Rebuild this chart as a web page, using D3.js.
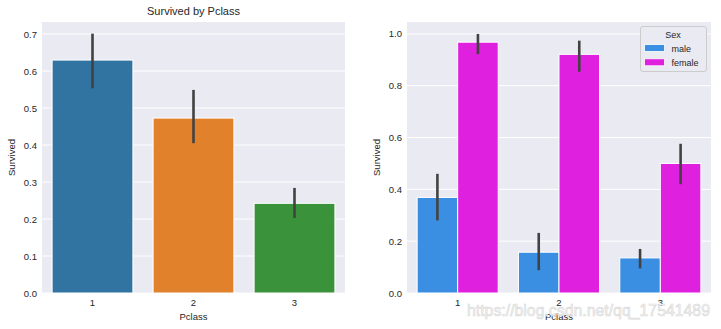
<!DOCTYPE html>
<html><head><meta charset="utf-8">
<script src="https://cdn.jsdelivr.net/npm/d3@7"></script>
<style>
body{margin:0;background:#fff;}
text{font-family:"Liberation Sans",Arial,sans-serif;fill:#262626;}
</style></head>
<body>
<svg id="c" width="721" height="329"></svg>
<script>
// ---- data ----
const classes = ["1","2","3"];
const survived = [0.6296, 0.4728, 0.2424];
const survivedLo = [0.553, 0.405, 0.203];
const survivedHi = [0.701, 0.549, 0.284];
const leftColors = ["#3274a1","#e1812c","#3a923a"];
const leftTicks = [0.0,0.1,0.2,0.3,0.4,0.5,0.6,0.7];

const sexes = ["male","female"];
const maleVals = [0.3689, 0.1574, 0.1354];
const maleLo = [0.280, 0.088, 0.095];
const maleHi = [0.460, 0.232, 0.170];
const femaleVals = [0.9681, 0.9211, 0.5000];
const femaleLo = [0.922, 0.854, 0.420];
const femaleHi = [1.000, 0.974, 0.576];
const sexColors = ["#3a8fe3","#df20df"];
const rightTicks = [0.0,0.2,0.4,0.6,0.8,1.0];

const svg = d3.select("#c");
const bg = "#eaeaf2";
const errColor = "#424242";
const fs = 9.5;

function panel(x0, x1, y0, y1, ymax, ticks, fmt) {
  const g = svg.append("g");
  g.append("rect").attr("x",x0).attr("y",y0).attr("width",x1-x0).attr("height",y1-y0).attr("fill",bg);
  const x = d3.scaleBand().domain(classes).range([x0,x1]).paddingInner(0).paddingOuter(0);
  const y = d3.scaleLinear().domain([0,ymax]).range([y1,y0]);
  g.selectAll("line.grid").data(ticks).join("line")
    .attr("x1",x0).attr("x2",x1).attr("y1",d=>y(d)).attr("y2",d=>y(d))
    .attr("stroke","#fff").attr("stroke-width",1);
  const yAxis = d3.axisLeft(y).tickValues(ticks).tickFormat(fmt).tickSize(0).tickPadding(5);
  const ya = g.append("g").attr("transform",`translate(${x0},0)`).call(yAxis);
  ya.select(".domain").remove();
  ya.selectAll("text").attr("font-size",fs).attr("fill","#262626").style("font-family","Liberation Sans, Arial, sans-serif");
  const xAxis = d3.axisBottom(x).tickSize(0).tickPadding(6);
  const xa = g.append("g").attr("transform",`translate(0,${y1})`).call(xAxis);
  xa.select(".domain").remove();
  xa.selectAll("text").attr("font-size",fs).attr("fill","#262626").style("font-family","Liberation Sans, Arial, sans-serif");
  return {g,x,y};
}

// ---- left panel ----
const L = panel(42, 345, 22, 293, 0.7325, leftTicks, d3.format(".1f"));
const lw = L.x.bandwidth()*0.8;
L.g.selectAll("rect.bar").data(classes).join("rect")
  .attr("x",d=>L.x(d)+L.x.bandwidth()*0.1).attr("width",lw)
  .attr("y",(d,i)=>L.y(survived[i])).attr("height",(d,i)=>L.y(0)-L.y(survived[i]))
  .attr("fill",(d,i)=>leftColors[i]).attr("stroke","#fff").attr("stroke-width",1);
L.g.selectAll("line.err").data(classes).join("line")
  .attr("x1",d=>L.x(d)+L.x.bandwidth()/2).attr("x2",d=>L.x(d)+L.x.bandwidth()/2)
  .attr("y1",(d,i)=>L.y(survivedLo[i])).attr("y2",(d,i)=>L.y(survivedHi[i]))
  .attr("stroke",errColor).attr("stroke-width",2.6);
svg.append("text").attr("x",193.5).attr("y",15).attr("text-anchor","middle").attr("font-size",11).text("Survived by Pclass");
svg.append("text").attr("x",193.5).attr("y",320).attr("text-anchor","middle").attr("font-size",fs).text("Pclass");
svg.append("text").attr("transform","translate(15,157.5) rotate(-90)").attr("text-anchor","middle").attr("font-size",fs).text("Survived");

// ---- right panel ----
const R = panel(407, 711, 22, 293, 1.046, rightTicks, d3.format(".1f"));
const sub = d3.scaleBand().domain(sexes).range([0,R.x.bandwidth()*0.8]);
const vals = [maleVals, femaleVals], los = [maleLo, femaleLo], his = [maleHi, femaleHi];
sexes.forEach((s,si)=>{
  R.g.selectAll("rect.b"+si).data(classes).join("rect")
    .attr("x",d=>R.x(d)+R.x.bandwidth()*0.1+sub(s)).attr("width",sub.bandwidth())
    .attr("y",(d,i)=>R.y(vals[si][i])).attr("height",(d,i)=>R.y(0)-R.y(vals[si][i]))
    .attr("fill",sexColors[si]).attr("stroke","#fff").attr("stroke-width",1);
});
sexes.forEach((s,si)=>{
  R.g.selectAll("line.e"+si).data(classes).join("line")
    .attr("x1",d=>R.x(d)+R.x.bandwidth()*0.1+sub(s)+sub.bandwidth()/2)
    .attr("x2",d=>R.x(d)+R.x.bandwidth()*0.1+sub(s)+sub.bandwidth()/2)
    .attr("y1",(d,i)=>R.y(los[si][i])).attr("y2",(d,i)=>R.y(his[si][i]))
    .attr("stroke",errColor).attr("stroke-width",2.6);
});
svg.append("text").attr("x",559).attr("y",320).attr("text-anchor","middle").attr("font-size",fs).text("Pclass");
svg.append("text").attr("transform","translate(380,157.5) rotate(-90)").attr("text-anchor","middle").attr("font-size",fs).text("Survived");

// legend
const lg = svg.append("g");
lg.append("rect").attr("x",640.5).attr("y",26.5).attr("width",66).attr("height",45).attr("rx",2.5)
  .attr("fill",bg).attr("stroke","#cccccc").attr("stroke-width",1);
lg.append("text").attr("x",673).attr("y",37.5).attr("text-anchor","middle").attr("font-size",9).text("Sex");
sexes.forEach((s,i)=>{
  lg.append("rect").attr("x",644.5).attr("y",44.5+i*14.3).attr("width",20).attr("height",7)
    .attr("fill",sexColors[i]).attr("stroke","#fff").attr("stroke-width",0.8);
  lg.append("text").attr("x",671.5).attr("y",51.5+i*14.3).attr("font-size",9).text(s);
});

// watermark
svg.append("text").attr("x",467).attr("y",316).attr("font-size",16.5)
  .attr("textLength",243).attr("lengthAdjust","spacingAndGlyphs")
  .style("fill","#f4f4f4").attr("stroke","#d8d8d8").attr("stroke-width",0.6)
  .text("https://blog.csdn.net/qq_17541489");
</script>
</body></html>
